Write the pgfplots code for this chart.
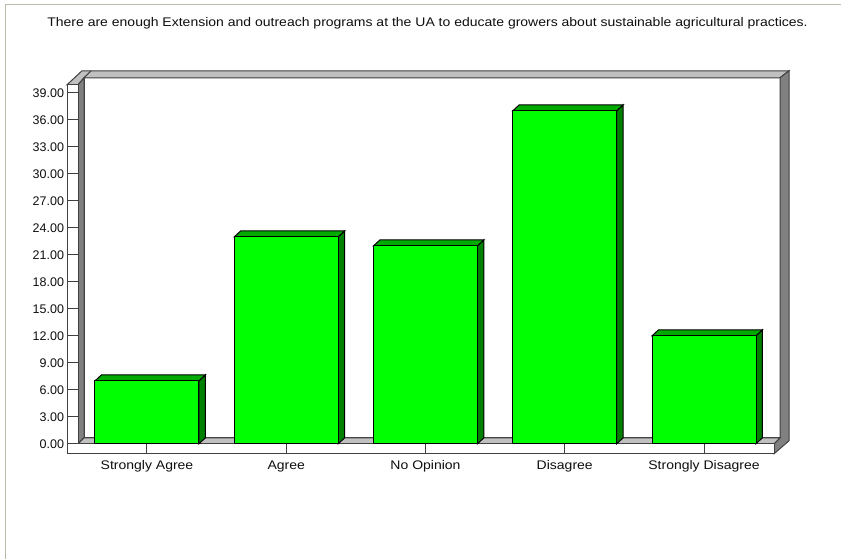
\documentclass[border=0pt]{standalone}
\usepackage{pgfplots}
\pgfplotsset{compat=1.18}
\usepackage{fontspec}
\setmainfont{Liberation Sans}
\newfontfamily\widefont[FakeStretch=1.12]{Liberation Sans}
\definecolor{wallD}{RGB}{128,128,128}
\definecolor{wallL}{RGB}{192,192,192}
\definecolor{barF}{RGB}{0,255,0}
\definecolor{barT}{RGB}{0,170,0}
\definecolor{barS}{RGB}{0,128,0}
\definecolor{txt}{RGB}{15,15,15}
\begin{document}
\begin{tikzpicture}[x=1pt,y=1pt]
\useasboundingbox (0,0.8) rectangle (841,559.8);
\fill[white] (0,0.8) rectangle (841,559.8);
\draw[color={rgb,255:red,190;green,186;blue,170},line width=1.4pt] (5.5,0.8) -- (5.5,555.3) -- (841,555.3);
\node[text=txt,font=\fontsize{12.5}{14}\selectfont\widefont,anchor=center] at (427.5,536.5) {There are enough Extension and outreach programs at the UA to educate growers about sustainable agricultural practices.};
% back frame
\begin{scope}[draw=black!75,line width=1pt,line join=miter]
\filldraw[fill=white] (84,{559-77}) rectangle (780,{559-437});
\filldraw[fill=wallL] (78,{559-84}) -- (84,{559-77}) -- (780,{559-77}) -- (789,{559-70}) -- (82,{559-70}) -- (67,{559-84}) -- cycle;
\draw (84,{559-77}) -- (91,{559-70});
\filldraw[fill=wallD] (78,{559-84}) -- (84,{559-77}) -- (84,{559-437}) -- (78,{559-443}) -- cycle;
\filldraw[fill=wallD] (780,{559-77}) -- (789,{559-70}) -- (789,{559-440}) -- (774,{559-453}) -- (774,{559-443}) -- (780,{559-437}) -- cycle;
\filldraw[fill=wallL] (78,{559-443}) -- (84,{559-437}) -- (780,{559-437}) -- (774,{559-443}) -- cycle;
\filldraw[fill=white] (67,{559-84}) rectangle (78,{559-453});
\filldraw[fill=white] (67,{559-443}) rectangle (774,{559-453});
\end{scope}
\begin{axis}[
  at={(78pt,116pt)},anchor=south west,
  scale only axis,width=696pt,height=359pt,
  xmin=-0.4955,xmax=4.5027,ymin=0,ymax=39.89,
  clip=false,
  axis line style={draw=none},
  xtick={0,1,2,3,4},
  xticklabels={Strongly Agree,Agree,No Opinion,Disagree,Strongly Disagree},
  ytick={0,3,6,9,12,15,18,21,24,27,30,33,36,39},
  yticklabels={0.00,3.00,6.00,9.00,12.00,15.00,18.00,21.00,24.00,27.00,30.00,33.00,36.00,39.00},
  tick align=outside,
  major tick length=10.5pt,
  tick style={draw=black!75,line width=1pt},
  xtick pos=lower,ytick pos=left,
  yticklabel style={text=txt,font=\fontsize{12.5}{14}\selectfont},
  xticklabel style={text=txt,font=\fontsize{12.5}{14}\selectfont\widefont,text height=9pt,text depth=3pt,yshift=-3pt},
  /pgf/number format/assume math mode=true,
]
% side and top faces
\addplot[fill=barS,draw=black,line width=1pt,sharp plot] coordinates {(0.373,0)(0.420,0.67)(0.420,7.67)(0.373,7)} --cycle;
\addplot[fill=barS,draw=black,line width=1pt,sharp plot] coordinates {(1.373,0)(1.420,0.67)(1.420,23.67)(1.373,23)} --cycle;
\addplot[fill=barS,draw=black,line width=1pt,sharp plot] coordinates {(2.373,0)(2.420,0.67)(2.420,22.67)(2.373,22)} --cycle;
\addplot[fill=barS,draw=black,line width=1pt,sharp plot] coordinates {(3.373,0)(3.420,0.67)(3.420,37.67)(3.373,37)} --cycle;
\addplot[fill=barS,draw=black,line width=1pt,sharp plot] coordinates {(4.373,0)(4.420,0.67)(4.420,12.67)(4.373,12)} --cycle;
\addplot[fill=barT,draw=black,line width=1pt,sharp plot] coordinates {(-0.373,7)(-0.326,7.67)(0.420,7.67)(0.373,7)} --cycle;
\addplot[fill=barT,draw=black,line width=1pt,sharp plot] coordinates {(0.627,23)(0.674,23.67)(1.420,23.67)(1.373,23)} --cycle;
\addplot[fill=barT,draw=black,line width=1pt,sharp plot] coordinates {(1.627,22)(1.674,22.67)(2.420,22.67)(2.373,22)} --cycle;
\addplot[fill=barT,draw=black,line width=1pt,sharp plot] coordinates {(2.627,37)(2.674,37.67)(3.420,37.67)(3.373,37)} --cycle;
\addplot[fill=barT,draw=black,line width=1pt,sharp plot] coordinates {(3.627,12)(3.674,12.67)(4.420,12.67)(4.373,12)} --cycle;
% front faces
\addplot[ybar,bar width=104pt,fill=barF,draw=black,line width=1pt] coordinates {(0,7)(1,23)(2,22)(3,37)(4,12)};
\end{axis}
\end{tikzpicture}
\end{document}
